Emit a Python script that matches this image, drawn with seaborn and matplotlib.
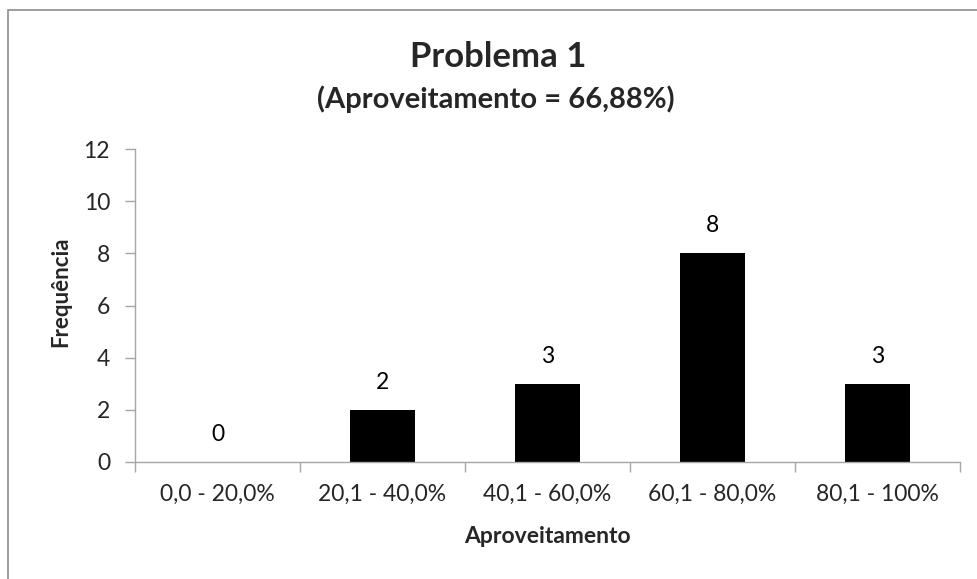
import matplotlib
matplotlib.use("Agg")
import matplotlib.pyplot as plt
import seaborn as sns
import pandas as pd
from matplotlib.patches import Rectangle

categorias = ["0,0 - 20,0%", "20,1 - 40,0%", "40,1 - 60,0%", "60,1 - 80,0%", "80,1 - 100%"]
frequencias = [0, 2, 3, 8, 3]
titulo = "Problema 1"
subtitulo = "(Aproveitamento = 66,88%)"
rotulo_x = "Aproveitamento"
rotulo_y = "Frequência"
ticks_y = [0, 2, 4, 6, 8, 10, 12]

sns.set_theme(style="white")
plt.rcParams["font.family"] = ["Lato", "DejaVu Sans"]

df = pd.DataFrame({"cat": categorias, "freq": frequencias})

fig = plt.figure(figsize=(9.78, 5.79), dpi=100)
ax = fig.add_axes([135 / 978, 1 - 462 / 579, (960 - 135) / 978, (462 - 149) / 579])

sns.barplot(data=df, x="cat", y="freq", color="black", saturation=1,
            width=0.39, ax=ax, linewidth=0)

ax.set_xlim(-0.5, len(categorias) - 0.5)
ax.set_ylim(0, 12)
ax.set_yticks(ticks_y)
ax.set_yticklabels([str(t) for t in ticks_y], fontsize=16.5)
ax.set_xticks(range(len(categorias)))
ax.set_xticklabels(categorias, fontsize=16.5)

# category boundary ticks on the x axis
ax.set_xticks([i - 0.5 for i in range(len(categorias) + 1)], minor=True)
ax.tick_params(axis="x", which="major", length=0, pad=16)
ax.tick_params(axis="x", which="minor", length=7, width=1, color="#a6a6a6", direction="out", bottom=True)
ax.tick_params(axis="y", length=7, width=1, color="#a6a6a6", direction="out", left=True, pad=11)

for side in ["top", "right"]:
    ax.spines[side].set_visible(False)
for side in ["left", "bottom"]:
    ax.spines[side].set_color("#a6a6a6")
    ax.spines[side].set_linewidth(1)
    ax.spines[side].set_zorder(3)

for i, v in enumerate(frequencias):
    ax.text(i, v + 0.65, str(v), ha="center", va="bottom", fontsize=16.5, color="black")

ax.set_xlabel(rotulo_x, fontsize=16.5, fontweight="bold", va="top")
ax.xaxis.set_label_coords(0.5, -0.205)
ax.set_ylabel(rotulo_y, fontsize=16, fontweight="bold", va="center")
ax.yaxis.set_label_coords(-0.09, 0.543)

fig.text(498 / 978, 1 - 67 / 579, titulo, ha="center", va="baseline", fontsize=25, fontweight="bold")
fig.text(496 / 978, 1 - 108 / 579, subtitulo, ha="center", va="baseline", fontsize=21, fontweight="bold")

# chart frame
fig.patches.append(Rectangle((8 / 978, -0.1), 1.2, 1 - 10 / 579 + 0.1, transform=fig.transFigure,
                             fill=False, edgecolor="#8c8c8c", linewidth=1.2))

fig.savefig("out.png", dpi=100)
